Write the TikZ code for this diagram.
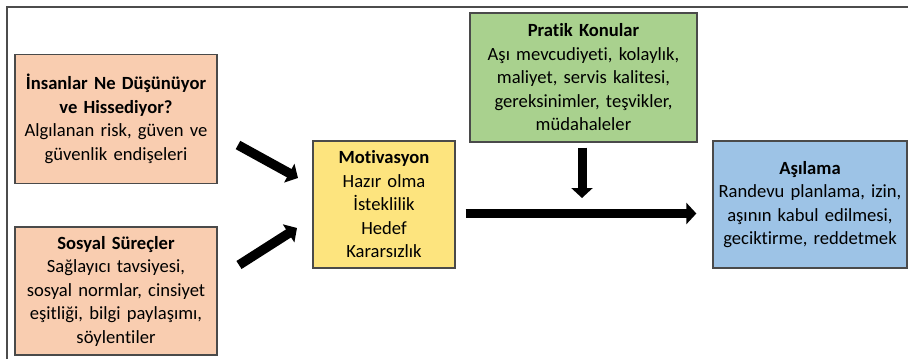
\documentclass[tikz,border=0pt]{standalone}
\usepackage{fontspec}
\setmainfont{Carlito}[Ligatures=NoCommon]
\usetikzlibrary{arrows.meta,calc}
\definecolor{peach}{HTML}{F9CDB0}
\definecolor{mot}{HTML}{FDE47E}
\definecolor{grn}{HTML}{A9D18E}
\definecolor{blu}{HTML}{9DC3E6}
\definecolor{bord}{HTML}{4A4A4A}
\begin{document}
\begin{tikzpicture}[x=1pt,y=-1pt,
  box/.style={draw=bord, line width=1.3pt, align=center, inner sep=2pt,
    font=\fontsize{18.6}{23.5}\selectfont},
  bigarrow/.style={line width=9.5pt, black, -{Triangle[length=10pt,width=21pt]}}]
\useasboundingbox[fill=white] (0,0) rectangle (908,359);
\draw[line width=2pt, draw=black!70] (7,359) -- (7,7) -- (908,7);
\node[box, fill=peach, minimum width=202pt, minimum height=129pt, text width=198pt] (ins) at (116,119)
  {\textbf{İnsanlar Ne Düşünüyor}\\\textbf{ve Hissediyor?}\\Algılanan risk, güven ve\\güvenlik endişeleri};
\node[box, fill=peach, minimum width=202pt, minimum height=128pt, text width=198pt] (sos) at (116,291)
  {\textbf{Sosyal Süreçler}\\Sağlayıcı tavsiyesi,\\sosyal normlar, cinsiyet\\eşitliği, bilgi paylaşımı,\\söylentiler};
\node[box, fill=mot, minimum width=142pt, minimum height=127pt, text width=138pt] (mv) at (384,204.5)
  {\textbf{Motivasyon}\\Hazır olma\\İsteklilik\\Hedef\\Kararsızlık};
\node[box, fill=grn, minimum width=227pt, minimum height=129pt, text width=223pt] (pr) at (583.5,77.5)
  {\textbf{Pratik Konular}\\Aşı mevcudiyeti, kolaylık,\\maliyet, servis kalitesi,\\gereksinimler, teşvikler,\\müdahaleler};
\node[box, fill=blu, minimum width=194pt, minimum height=127pt, text width=190pt] (as) at (810,204.5)
  {\textbf{Aşılama}\\Randevu planlama, izin,\\aşının kabul edilmesi,\\geciktirme, reddetmek};
\coordinate (s1) at (238,145);
\coordinate (e1) at (298,178);
\coordinate (s2) at (239,265);
\coordinate (e2) at (297,228);
\coordinate (dn) at (582,198);
\draw[bigarrow] (s1) -- (e1);
\draw[bigarrow] (s2) -- (e2);
\draw[bigarrow] (mv.east) ++(10,9) -- ($(as.west)+(-16,9)$);
\draw[bigarrow, line width=9pt] ($(pr.south)+(-1.5,5)$) -- (dn);
\end{tikzpicture}
\end{document}
